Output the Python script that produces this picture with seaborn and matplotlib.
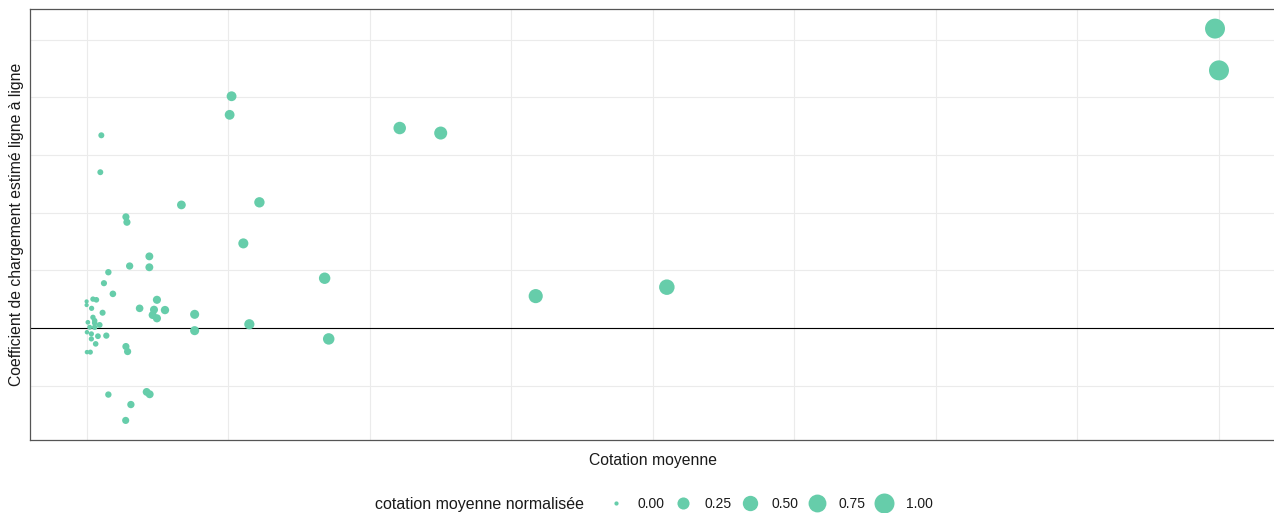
import numpy as np
import pandas as pd
import matplotlib
matplotlib.use("Agg")
import matplotlib.pyplot as plt
import matplotlib.colors as mcolors
from matplotlib.lines import Line2D
import seaborn as sns

# ---- data (x in normalised cotation units) ----
cotation = [0.9965, 1.0, 0.2765, 0.3127, 0.128, 0.1263, 0.013, 0.0121,
            0.0837, 0.1526, 0.0347, 0.0356, 0.1384, 0.0554, 0.038, 0.0554,
            0.0192, 0.0153, 0.0232, 0.0, 0.0, 0.0056, 0.0086, 0.0044,
            0.0141, 0.0468, 0.0621, 0.0595, 0.0692, 0.0583, 0.0621, 0.0954,
            0.0954, 0.1437, 0.2102, 0.2138, 0.3966, 0.5124, 0.0347, 0.0362,
            0.0192, 0.053, 0.0557, 0.0391, 0.0345,
            0.0056, 0.0011, 0.0071, 0.0071, 0.0115, 0.0027, 0.0071, 0.0003,
            0.0042, 0.0100, 0.0174, 0.0042, 0.0080, 0.0003, 0.0033]
coefficient = [5.19, 4.466, 3.466, 3.379, 4.017, 3.695, 3.34, 2.70,
               2.133, 2.178, 1.926, 1.833, 1.466, 1.241, 1.074, 1.052,
               0.966, 0.776, 0.591, 0.46, 0.397, 0.50, 0.488, 0.34,
               0.264, 0.34, 0.488, 0.316, 0.31, 0.224, 0.167, 0.236,
               -0.047, 0.064, 0.862, -0.19, 0.552, 0.707, -0.322, -0.409,
               -1.155, -1.109, -1.15, -1.328, -1.603,
               0.184, 0.098, 0.126, 0.086, 0.052, 0.012, 0.012, -0.074,
               -0.103, -0.143, -0.133, -0.19, -0.276, -0.419, -0.419]
legend_values = [0.0, 0.25, 0.5, 0.75, 1.0]
legend_labels = ["0.00", "0.25", "0.50", "0.75", "1.00"]

df = pd.DataFrame({"cotation": cotation, "coef": coefficient})
cmin, cmax = df["cotation"].min(), df["cotation"].max()
df["norm"] = (df["cotation"] - cmin) / (cmax - cmin)

POINT = "#66CDAA"
FONT = ["Liberation Sans", "DejaVu Sans"]

sns.set_theme(style="white")
plt.rcParams["font.family"] = FONT

# ggplot-like size scale (diameter linear in sqrt of value, incl. stroke)
K = 3.757
SMAX = 207.0
SMIN = SMAX / (1 + K) ** 2


def _fwd(v):
    v = np.clip(np.asarray(v, dtype=float), 0, None)
    return ((1 + K * np.sqrt(v)) ** 2 - 1) / ((1 + K) ** 2 - 1)


def _inv(v):
    v = np.asarray(v, dtype=float)
    return ((np.sqrt(v * ((1 + K) ** 2 - 1) + 1) - 1) / K) ** 2


size_norm = mcolors.FuncNorm((_fwd, _inv), vmin=0, vmax=1)


def area(v):
    return SMIN + (SMAX - SMIN) * float(_fwd(v))


fig = plt.figure(figsize=(12.74, 5.13), dpi=100)
ax = fig.add_axes([30 / 1274, (513 - 440) / 513, 1245.6 / 1274, 431 / 513])

ax.axhline(0, color="black", linewidth=0.8, zorder=1)

sns.scatterplot(data=df, x="cotation", y="coef", size="norm",
                sizes=(SMIN, SMAX), size_norm=size_norm, color=POINT,
                linewidth=0, alpha=1, legend=False, ax=ax, zorder=3)

# limits with 5% expansion
xr = cmax - cmin
ax.set_xlim(cmin - 0.05 * xr, cmax + 0.05 * xr)
ymin, ymax = df["coef"].min(), df["coef"].max()
yr = ymax - ymin
ax.set_ylim(ymin - 0.05 * yr, ymax + 0.05 * yr)

ax.set_xticks(np.arange(0, 1.0001, 0.125))
ax.set_yticks(np.arange(-1, 5.5, 1))
ax.set_xticklabels([])
ax.set_yticklabels([])
ax.tick_params(length=0)
ax.grid(True, color="#EBEBEB", linewidth=0.8)
ax.set_axisbelow(True)
for sp in ax.spines.values():
    sp.set_visible(True)
    sp.set_color("#555555")
    sp.set_linewidth(0.9)

ax.set_xlabel("Cotation moyenne", fontsize=11.3, color="#1a1a1a", labelpad=5.5)
ax.set_ylabel("Coefficient de chargement estimé ligne à ligne", fontsize=11.3,
              color="#1a1a1a", labelpad=0.8)

# legend at bottom
fig.text(375 / 1274, 1 - 504 / 513, "cotation moyenne normalisée",
         fontsize=11.5, color="#1a1a1a", va="center", ha="left")
handles = [Line2D([], [], linestyle="none", marker="o", markersize=np.sqrt(area(v)),
                  markerfacecolor=POINT, markeredgewidth=0) for v in legend_values]
leg = fig.legend(handles, legend_labels, ncol=5, frameon=False,
                 loc="center left", bbox_to_anchor=(604.5 / 1274, 1 - 504 / 513),
                 fontsize=10, handlelength=1.6, handletextpad=0.8,
                 columnspacing=0.48, borderaxespad=0, borderpad=0)
for t in leg.get_texts():
    t.set_color("#1a1a1a")

fig.savefig("out.png", dpi=100, facecolor="white")
